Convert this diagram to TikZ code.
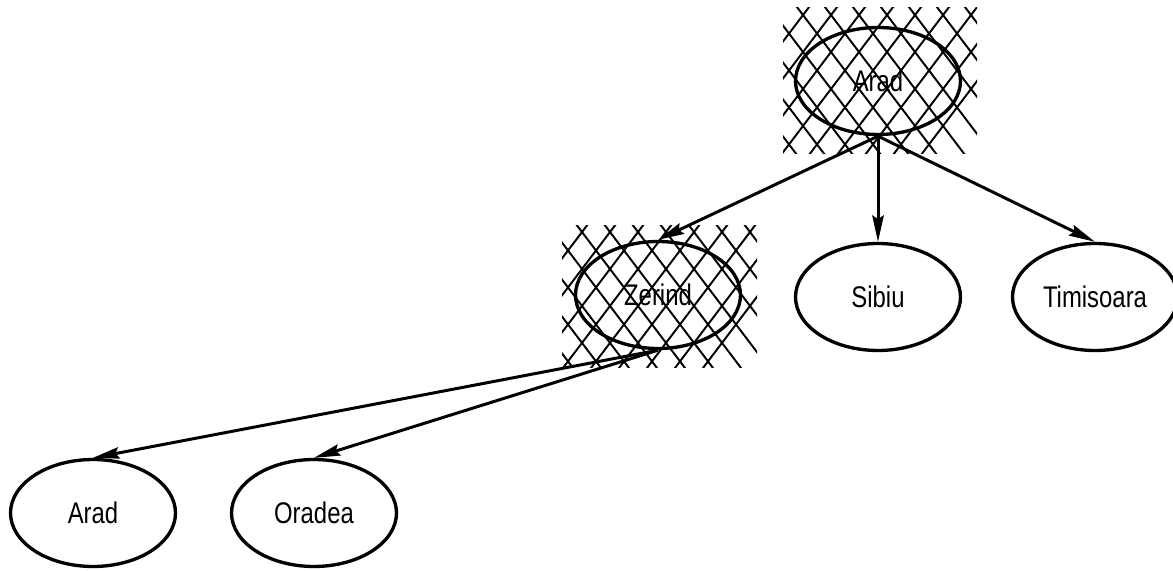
\documentclass[tikz,border=0pt]{standalone}
\usepackage{fontspec}
\newfontfamily\cityfont{Liberation Sans}[FakeStretch=0.8]
\usetikzlibrary{shapes.geometric,arrows.meta}

\tikzset{
  city/.style={ellipse, draw, line width=1.9pt, minimum width=3.3cm,
    minimum height=2.14cm, inner sep=0pt,
    font=\cityfont\fontsize{17}{20}\selectfont},
  edge/.style={line width=1.7pt, -{Stealth[length=15pt,width=6.5pt,inset=2pt]}},
  hatch/.style={line width=1.1pt}
}

\begin{document}
\begin{tikzpicture}[x=0.02cm, y=-0.02cm]
    \useasboundingbox (0,0) rectangle (1173,571);
    % hatched (expanded) nodes
    \begin{scope}
        \clip (783,8) rectangle (977,153);
        \foreach \k in {-7,...,8} {
            \draw[hatch] ({791.6+28*\k},0) -- ({920.4+28*\k},170);
            \draw[hatch] ({814.4+28*\k},0) -- ({685.6+28*\k},170);
        }
    \end{scope}
    \begin{scope}
        \clip (562,225) rectangle (757,367);
        \foreach \k in {-7,...,8} {
            \draw[hatch] ({569.1+28*\k},215) -- ({697.9+28*\k},385);
            \draw[hatch] ({594.9+28*\k},215) -- ({466.1+28*\k},385);
        }
    \end{scope}
    % search tree
    \node[city] (arad) at (878,81) {Arad};
    \node[city] (zerind) at (658,295) {Zerind};
    \node[city] (sibiu) at (878,297) {Sibiu};
    \node[city] (timisoara) at (1095,297) {Timisoara};
    \node[city] (arad2) at (93,513) {Arad};
    \node[city] (oradea) at (314,513) {Oradea};
    \draw[edge] (arad.south) -- (zerind.north);
    \draw[edge] (arad.south) -- (sibiu.north);
    \draw[edge] (arad.south) -- (timisoara.north);
    \draw[edge] (zerind.south) -- (arad2.north);
    \draw[edge] (zerind.south) -- (oradea.north);
\end{tikzpicture}
\end{document}
